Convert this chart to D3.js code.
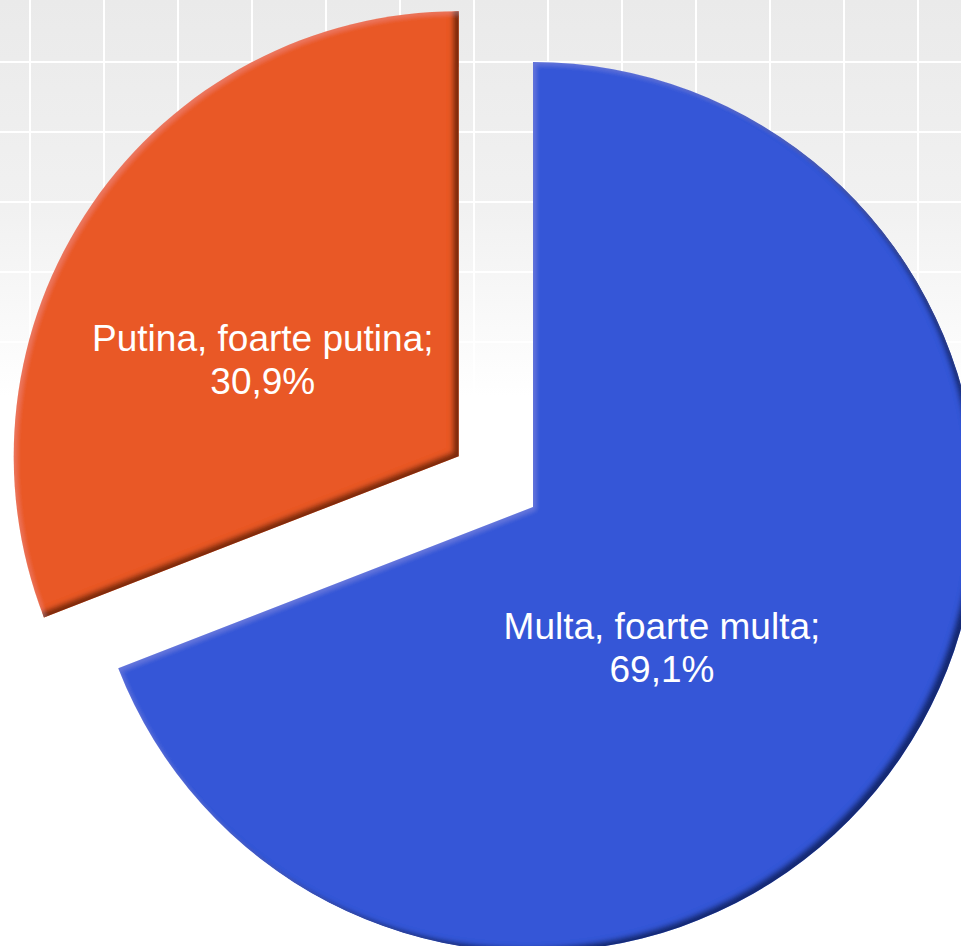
<!DOCTYPE html>
<html>
<head>
<meta charset="utf-8">
<script src="https://cdn.jsdelivr.net/npm/d3@7"></script>
<style>
  html, body { margin: 0; padding: 0; background: #fff; overflow: hidden; }
  svg { display: block; }
</style>
</head>
<body>
<div id="chart"></div>
<script>
// Data
const categories = ["Multa, foarte multa", "Putina, foarte putina"];
const values = [69.1, 30.9];
const valueLabels = ["69,1%", "30,9%"];
const colors = ["#3657d7", "#e95826"];
const exploded = [0, 90];   // px pulled out along the bisector

const width = 961, height = 946;
const cx = 533, cy = 507, radius = 445;

const svg = d3.select("#chart").append("svg")
  .attr("width", width)
  .attr("height", height);

const defs = svg.append("defs");

// background gradient (grey at top fading to white)
const bg = defs.append("linearGradient")
  .attr("id", "bg").attr("x1", 0).attr("y1", 0).attr("x2", 0).attr("y2", 1);
bg.append("stop").attr("offset", "0%").attr("stop-color", "#eaeaea");
bg.append("stop").attr("offset", "22%").attr("stop-color", "#f1f1f1");
bg.append("stop").attr("offset", "42%").attr("stop-color", "#ffffff");
bg.append("stop").attr("offset", "100%").attr("stop-color", "#ffffff");

// bevel: light edge top-left, dark edge bottom-right
const f = defs.append("filter").attr("id", "bevel")
  .attr("x", "-5%").attr("y", "-5%").attr("width", "110%").attr("height", "110%");
f.append("feGaussianBlur").attr("in", "SourceAlpha").attr("stdDeviation", 2.5).attr("result", "blur");
f.append("feOffset").attr("in", "blur").attr("dx", -6).attr("dy", -4).attr("result", "upLeft");
f.append("feComposite").attr("in", "SourceAlpha").attr("in2", "upLeft")
  .attr("operator", "arithmetic").attr("k2", 1).attr("k3", -1).attr("result", "darkEdge");
f.append("feFlood").attr("flood-color", "#000").attr("flood-opacity", 0.75).attr("result", "black");
f.append("feComposite").attr("in", "black").attr("in2", "darkEdge").attr("operator", "in").attr("result", "shade");
f.append("feOffset").attr("in", "blur").attr("dx", 3).attr("dy", 3).attr("result", "downRight");
f.append("feComposite").attr("in", "SourceAlpha").attr("in2", "downRight")
  .attr("operator", "arithmetic").attr("k2", 1).attr("k3", -1).attr("result", "lightEdge");
f.append("feFlood").attr("flood-color", "#fff").attr("flood-opacity", 0.1).attr("result", "white");
f.append("feComposite").attr("in", "white").attr("in2", "lightEdge").attr("operator", "in").attr("result", "shine");
const merge = f.append("feMerge");
merge.append("feMergeNode").attr("in", "SourceGraphic");
merge.append("feMergeNode").attr("in", "shade");
merge.append("feMergeNode").attr("in", "shine");

svg.append("rect")
  .attr("width", width).attr("height", height)
  .attr("fill", "url(#bg)");

// white grid lines
const gx = d3.range(30, width, 74);
const gy = d3.range(62, height, 70);
const grid = svg.append("g").attr("stroke", "#ffffff").attr("stroke-width", 2);
grid.selectAll("line.v").data(gx).enter().append("line")
  .attr("class", "v")
  .attr("x1", d => d).attr("x2", d => d)
  .attr("y1", 0).attr("y2", height);
grid.selectAll("line.h").data(gy).enter().append("line")
  .attr("class", "h")
  .attr("x1", 0).attr("x2", width)
  .attr("y1", d => d).attr("y2", d => d);

// pie
const pie = d3.pie().sort(null).value(d => d.value);
const slices = pie(values.map((v, i) => ({
  value: v, name: categories[i], label: valueLabels[i], color: colors[i], explode: exploded[i]
})));

const arc = d3.arc().innerRadius(0).outerRadius(radius);

function offsetOf(d) {
  const mid = (d.startAngle + d.endAngle) / 2;
  return [Math.sin(mid) * d.data.explode, -Math.cos(mid) * d.data.explode];
}

const g = svg.append("g").attr("transform", `translate(${cx},${cy})`);

const slice = g.selectAll("g.slice").data(slices).enter().append("g")
  .attr("class", "slice")
  .attr("transform", d => {
    const o = offsetOf(d);
    return `translate(${o[0]},${o[1]})`;
  });

slice.append("path")
  .attr("d", arc)
  .attr("fill", d => d.data.color)
  .attr("filter", "url(#bevel)");

// labels (best-fit style nudges per slice)
const labelArc = d3.arc().innerRadius(radius * 0.86).outerRadius(radius * 0.86);
const nudge = [[-29, 29], [-38, 8]];

const label = slice.append("text")
  .attr("transform", (d, i) => {
    const c = labelArc.centroid(d);
    return `translate(${c[0] / 2 + nudge[i][0]},${c[1] / 2 + nudge[i][1]})`;
  })
  .attr("text-anchor", "middle")
  .attr("fill", "#ffffff")
  .style("font-family", "'Liberation Sans', Arial, sans-serif")
  .style("font-size", "37px");

label.append("tspan")
  .attr("x", 0).attr("dy", "-0.15em")
  .text(d => d.data.name + ";");
label.append("tspan")
  .attr("x", 0).attr("dy", "1.17em")
  .text(d => d.data.label);
</script>
</body>
</html>
